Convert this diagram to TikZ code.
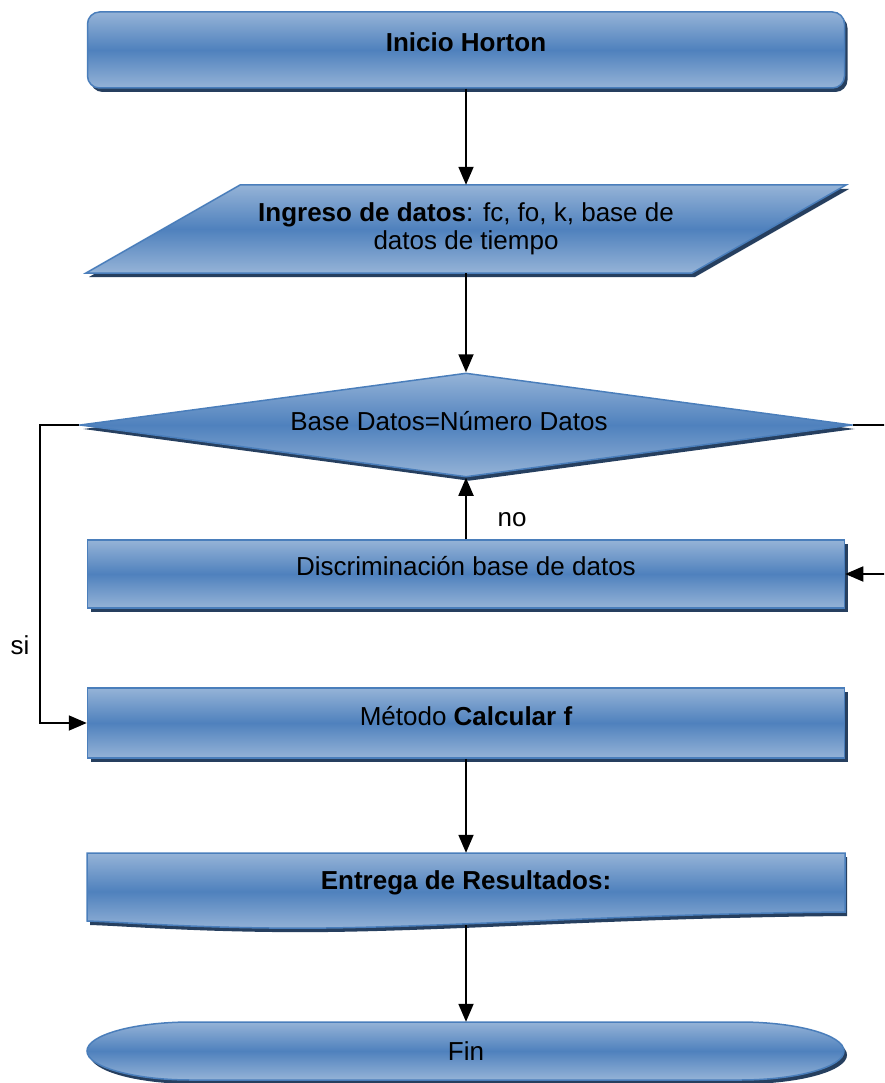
\documentclass[tikz,border=0pt]{standalone}
\usepackage{fontspec}
\setmainfont{Liberation Sans}
\usetikzlibrary{shapes.geometric,shadows,arrows.meta}
\definecolor{lightb}{HTML}{95B3D7}
\definecolor{midb}{HTML}{4F81BD}
\definecolor{edgeb}{HTML}{4A7EBB}
\definecolor{shadb}{HTML}{263F5F}
\tikzset{
  flowfill/.style={top color=lightb, bottom color=lightb, middle color=midb},
  boxshadow/.style={drop shadow={shadow xshift=3pt, shadow yshift=-4pt, fill=shadb, opacity=1}},
  shapebox/.style={flowfill, draw=edgeb, line width=1.5pt, boxshadow,
    font=\fontsize{26}{30}\selectfont, align=center, inner sep=0pt},
  txt/.style={font=\fontsize{26}{30}\selectfont, align=center, inner sep=0pt},
  conn/.style={line width=1.8pt, -{Triangle[length=18pt,width=15pt]}},
}
\begin{document}
\begin{tikzpicture}[x=1pt,y=-1pt]
\useasboundingbox (0,0) rectangle (884,1083);
\clip (0,0) rectangle (884,1083);

% Inicio
\node[shapebox, rounded corners=12pt, minimum width=757pt, minimum height=76pt] (start) at (466,50) {\raisebox{16pt}{\textbf{Inicio Horton}}};

% Ingreso (parallelogram)
\fill[shadb] (243,189) -- (849,189) -- (695,277) -- (89,277) -- cycle;
\path[flowfill, draw=edgeb, line width=1.5pt] (240,185) -- (846,185) -- (692,273) -- (86,273) -- cycle;
\node[txt, minimum height=88pt, minimum width=20pt] (ing) at (466,229) {\raisebox{-2pt}{\textbf{Ingreso de datos}: fc, fo, k, base de}\\datos de tiempo};

% Decision
\node[shapebox, diamond, aspect=7, minimum width=772pt, minimum height=104pt] (dec) at (466,425) {\hspace*{-34pt}\raisebox{8pt}{Base Datos=Número Datos}};

% Discriminacion
\node[shapebox, minimum width=757pt, minimum height=68pt] (disc) at (466,574) {\raisebox{17pt}{Discriminación base de datos}};

% Metodo
\node[shapebox, minimum width=757pt, minimum height=70pt] (met) at (466,723) {\raisebox{15pt}{Método \textbf{Calcular f}}};

% Entrega (document shape)
\fill[shadb] (90,857) -- (847,857) -- (847,916) .. controls (600,918) and (420,934) .. (273,932) .. controls (183,931) and (123,926) .. (90,925) -- cycle;
\path[flowfill, draw=edgeb, line width=1.5pt] (87,853) -- (845,853) -- (845,912) .. controls (600,914) and (420,930) .. (270,928) .. controls (180,927) and (120,922) .. (87,921) -- cycle;
\node[txt, minimum width=20pt, minimum height=72pt] (ent) at (466,889) {\raisebox{17pt}{\textbf{Entrega de Resultados:}}};

% Fin (terminal)
\fill[shadb] (194,1026) -- (743,1026) .. controls (800,1026) and (847,1039) .. (847,1055) .. controls (847,1071) and (800,1084) .. (743,1084) -- (194,1084) .. controls (137,1084) and (90,1071) .. (90,1055) .. controls (90,1039) and (137,1026) .. (194,1026) -- cycle;
\path[flowfill, draw=edgeb, line width=1.5pt] (191,1022) -- (740,1022) .. controls (797,1022) and (844,1035) .. (844,1051) .. controls (844,1067) and (797,1080) .. (740,1080) -- (191,1080) .. controls (134,1080) and (87,1067) .. (87,1051) .. controls (87,1035) and (134,1022) .. (191,1022) -- cycle;
\node[txt, minimum width=20pt, minimum height=58pt] (fin) at (466,1051) {\raisebox{-8pt}{Fin}};

% Connectors
\coordinate (lft) at (40,0);
\coordinate (rgt) at (905,0);
\draw[conn] (start.south) -- (ing.north);
\draw[conn] (ing.south) -- (dec.north);
\draw[conn] (disc.north) -- (dec.south);
\draw[conn] (met.south) -- (ent.north);
\draw[conn] (ent.south) -- (fin.north);
\draw[conn] (dec.west) -- (dec.west -| lft) |- (met.west);
\draw[conn] (dec.east) -- (dec.east -| rgt) |- (disc.east);

% Labels
\node[txt] (no) at (512,520) {no};
\node[txt] (si) at (20,645) {si};
\end{tikzpicture}
\end{document}
